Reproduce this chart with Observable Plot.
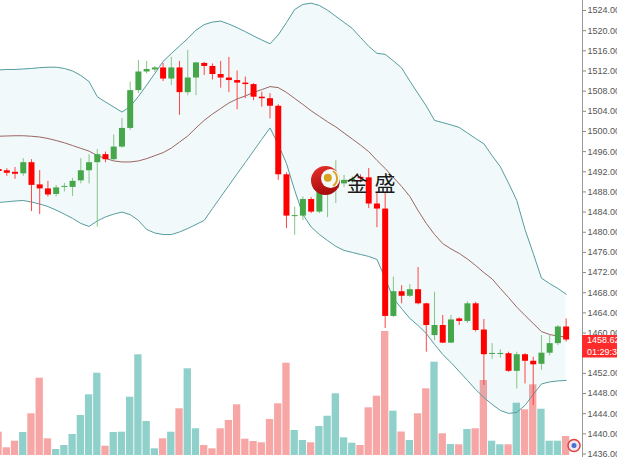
<!DOCTYPE html>
<html><head><meta charset="utf-8">
<script src="https://cdn.jsdelivr.net/npm/d3@7"></script>
<script src="https://cdn.jsdelivr.net/npm/@observablehq/plot@0.6"></script>
<style>
html,body{margin:0;padding:0;background:#fff;}
#wrap{position:relative;width:617px;height:457px;overflow:hidden;font-family:"Liberation Sans",Arial,sans-serif;}
#wrap svg{position:absolute;left:0;top:0;}
</style></head><body><div id="wrap"></div>
<script>
// candle index (-1 is the partly visible bar at the left edge)
const idx = d3.range(-1, 69);
const open  = [1492.45,1492.2,1491.9,1491.6,1493.8,1489.4,1488.6,1487.5,1488.9,1488.9,1490.2,1492.2,1493.8,1495.4,1494.4,1496.9,1500.6,1508.1,1511.8,1512.2,1512.6,1510.4,1512.6,1507.7,1510.6,1513.5,1512.9,1511.3,1510.6,1510.1,1509.6,1509.3,1506.8,1506.5,1505.0,1491.4,1483.1,1483.2,1486.5,1484.0,1487.5,1488.7,1489.6,1490.2,1490.9,1490.8,1485.6,1484.6,1463.3,1468.2,1467.3,1468.6,1465.8,1459.5,1461.5,1458.0,1462.8,1462.3,1465.8,1460.6,1455.75,1455.75,1455.9,1452.4,1455.7,1454.4,1453.8,1456.0,1457.9,1461.2];
const high  = [1492.85,1492.6,1492.85,1494.6,1494.4,1492.25,1490.1,1489.3,1489.7,1490.7,1494.6,1495.4,1496.4,1495.9,1499.3,1502.6,1509.8,1514.1,1513.9,1512.9,1513.5,1514.7,1513.9,1516.1,1513.7,1513.7,1513.4,1513.9,1514.7,1512.0,1510.8,1509.5,1507.8,1507.5,1505.3,1491.8,1485.0,1487.0,1486.9,1488.7,1491.9,1494.2,1491.3,1491.0,1491.4,1492.65,1487.7,1487.7,1471.1,1469.4,1469.6,1473.0,1465.9,1468.1,1463.5,1463.5,1463.0,1466.2,1466.1,1462.7,1457.9,1456.7,1456.2,1456.2,1455.9,1455.2,1459.5,1459.5,1461.5,1462.8];
const low   = [1491.65,1491.1,1490.5,1491.1,1484.1,1483.5,1487.0,1487.0,1488.0,1487.1,1489.6,1489.6,1481.0,1493.8,1494.2,1496.7,1500.2,1507.5,1511.4,1511.7,1509.9,1509.1,1503.2,1507.1,1507.1,1511.1,1510.2,1508.6,1507.7,1504.3,1506.5,1506.1,1504.8,1502.5,1490.3,1480.7,1479.4,1482.3,1483.7,1483.7,1482.9,1485.7,1488.9,1489.6,1489.8,1484.7,1480.9,1460.9,1463.1,1465.8,1467.1,1465.6,1456.2,1458.5,1457.9,1457.9,1461.5,1461.9,1460.2,1449.6,1454.8,1455.0,1452.2,1448.9,1449.9,1445.6,1452.6,1455.5,1457.5,1458.2];
const close = [1492.05,1491.7,1491.5,1493.8,1489.3,1488.6,1487.4,1488.8,1489.1,1490.1,1492.2,1493.8,1495.4,1494.4,1496.9,1500.6,1508.1,1511.8,1512.3,1512.6,1510.4,1512.6,1507.7,1510.6,1513.6,1512.9,1511.3,1510.6,1510.1,1509.6,1509.3,1506.8,1506.5,1505.0,1491.4,1483.2,1483.3,1486.5,1484.0,1488.3,1489.1,1489.7,1490.3,1490.5,1490.6,1485.6,1484.6,1463.3,1468.2,1467.3,1468.6,1465.8,1461.5,1461.5,1458.0,1462.6,1462.3,1465.8,1460.5,1455.7,1455.95,1455.95,1452.4,1455.7,1454.4,1453.7,1456.0,1457.9,1461.2,1458.62];
const volume = [233,77,143,230,417,773,167,60,100,210,400,607,823,93,230,233,583,1007,340,67,167,233,467,867,267,100,67,267,350,507,163,140,127,360,517,923,250,150,127,290,393,617,177,123,100,477,593,1240,443,235,150,417,667,933,217,110,107,260,267,750,143,107,107,523,457,707,463,143,143,190];
// Bollinger bands
const bbUpper  = [1512.2,1512.3,1512.3,1512.4,1512.5,1512.65,1512.75,1512.75,1512.5,1512.0,1511.1,1509.9,1506.9,1505.85,1504.85,1503.85,1504.95,1506.95,1509.2,1511.5,1513.9,1515.45,1516.95,1518.45,1520.1,1521.2,1521.7,1521.9,1521.3,1520.6,1519.8,1518.95,1518.15,1517.4,1519.15,1521.6,1524.2,1525.2,1525.45,1525.0,1524.05,1522.85,1521.65,1520.45,1518.65,1516.9,1515.5,1515.3,1514.0,1512.6,1510.0,1507.5,1505.05,1502.2,1501.75,1501.3,1500.8,1499.7,1498.6,1497.55,1495.2,1493.0,1489.75,1486.3,1480.55,1475.8,1470.9,1469.8,1468.85,1467.7];
const bbMiddle = [1499.05,1499.1,1499.15,1499.15,1499.05,1498.9,1498.6,1498.2,1497.75,1497.2,1496.65,1496.1,1495.2,1494.65,1494.15,1493.95,1493.95,1494.15,1494.6,1495.2,1495.8,1496.7,1497.9,1499.1,1500.7,1502.2,1503.45,1504.55,1505.65,1506.45,1507.05,1507.75,1508.3,1508.9,1508.7,1507.75,1506.55,1505.35,1504.1,1503.0,1501.9,1500.9,1499.7,1498.5,1497.3,1496.0,1494.25,1492.65,1490.85,1489.1,1487.1,1484.3,1481.75,1479.55,1477.75,1476.7,1475.8,1474.7,1473.4,1472.0,1470.75,1468.85,1467.05,1465.15,1463.5,1461.9,1460.3,1459.7,1459.4,1459.2];
const bbLower  = [1485.9,1486.05,1486.2,1486.3,1486.0,1485.6,1485.1,1484.4,1483.6,1482.75,1481.75,1481.15,1482.25,1483.05,1483.6,1484.0,1483.5,1482.35,1480.55,1479.85,1479.55,1479.55,1480.05,1480.75,1481.55,1482.35,1484.7,1487.0,1489.3,1491.6,1493.85,1496.15,1498.45,1500.7,1497.45,1493.65,1488.3,1483.5,1481.05,1479.55,1478.35,1477.2,1476.4,1476.0,1475.6,1475.2,1474.6,1470.85,1466.85,1464.85,1462.9,1461.5,1459.9,1457.75,1455.75,1454.15,1452.4,1450.6,1448.8,1447.2,1445.85,1444.65,1444.05,1444.25,1445.65,1447.8,1449.9,1450.3,1450.5,1450.6];
const yTicks = [1436,1440,1444,1448,1452,1456,1460,1464,1468,1472,1476,1480,1484,1488,1492,1496,1500,1504,1508,1512,1516,1520,1524];
const lastPrice = 1458.62;
const countdown = "01:29:33";
const watermark = "金盛";

const W = 617, H = 457;
const xDomain = [-0.766, 69.99];
const rows = idx.map((i, k) => ({
  i, o: open[k], h: high[k], l: low[k], c: close[k], v: volume[k],
  up: close[k] >= open[k], u: bbUpper[k], m: bbMiddle[k], lo: bbLower[k]
}));

const wrap = document.getElementById("wrap");

// volume layer
const volPlot = Plot.plot({
  width: W, height: H, marginLeft: 0, marginRight: 35, marginTop: 0, marginBottom: 2,
  x: {domain: xDomain, axis: null},
  y: {domain: [0, 4550], axis: null},
  color: {type: "identity"},
  style: {background: "#fff"},
  marks: [
    Plot.rectY(rows, {x1: d => d.i - 0.445, x2: d => d.i + 0.445, y1: 0, y2: "v",
      fill: d => d.up ? "#8fd0cb" : "#f7a6a6"})
  ]
});
wrap.appendChild(volPlot);

// price layer
const main = Plot.plot({
  width: W, height: H, marginLeft: 0, marginRight: 35, marginTop: 10, marginBottom: 3.5,
  x: {domain: xDomain, axis: null},
  y: {domain: [1436, 1524], axis: null},
  color: {type: "identity"},
  style: {background: "transparent", fontFamily: "Liberation Sans, Arial, sans-serif", fontSize: "9px"},
  marks: [
    Plot.areaY(rows, {x: "i", y1: "lo", y2: "u", fill: "#0097a7", fillOpacity: 0.055}),
    Plot.lineY(rows, {x: "i", y: "u", stroke: "#569c9e", strokeWidth: 1}),
    Plot.lineY(rows, {x: "i", y: "lo", stroke: "#569c9e", strokeWidth: 1}),
    Plot.lineY(rows, {x: "i", y: "m", stroke: "#9a6663", strokeWidth: 1}),
    Plot.ruleX(rows, {x: "i", y1: "l", y2: "h", stroke: d => d.up ? "#86c586" : "#ff4545", strokeWidth: 1}),
    Plot.ruleX(rows, {x: "i", y1: "o", y2: "c", stroke: d => d.up ? "#45a64a" : "#ff0000", strokeWidth: 6}),
    Plot.ruleX([xDomain[1]], {y1: 1435.3, y2: 1526, stroke: "#9a9a9a", strokeWidth: 1}),
    Plot.axisY({anchor: "right", ticks: yTicks, tickFormat: d3.format(".2f"), tickSize: 3, tickPadding: 2,
      fontSize: 9, color: "#555", stroke: "#888"})
  ]
});
wrap.appendChild(main);

// last price tag
const svg = d3.select(main);
const py = main.scale("y").apply(lastPrice);
const px = main.scale("x").apply(xDomain[1]);
const tag = svg.append("g").attr("text-anchor", "start");
tag.append("rect").attr("x", px).attr("y", py - 4.5).attr("width", W - px).attr("height", 22.5).attr("fill", "#ff2b2b");
tag.append("text").attr("x", px + 5).attr("y", py + 0.5).attr("dominant-baseline", "central")
  .attr("fill", "#fff").attr("font-size", 9).text(d3.format(".2f")(lastPrice));
tag.append("text").attr("x", px + 5).attr("y", py + 12.5).attr("dominant-baseline", "central")
  .attr("fill", "#fff").attr("font-size", 9).text(countdown);

// watermark logo
const defs = svg.append("defs");
const g1 = defs.append("linearGradient").attr("id", "lg").attr("x1", 0).attr("y1", 0).attr("x2", 0.3).attr("y2", 1);
g1.append("stop").attr("offset", "0%").attr("stop-color", "#e8322b");
g1.append("stop").attr("offset", "100%").attr("stop-color", "#a80d0d");
const logo = svg.append("g");
logo.append("circle").attr("cx", 325.5).attr("cy", 180.5).attr("r", 14.5).attr("fill", "url(#lg)");
logo.append("circle").attr("cx", 330.5).attr("cy", 178.5).attr("r", 9.5).attr("fill", "#f4fafa");
logo.append("path").attr("d", "M333,171 A9,9 0 0 1 333,186").attr("fill", "none").attr("stroke", "#d9a520").attr("stroke-width", 2);
logo.append("circle").attr("cx", 327.8).attr("cy", 177.8).attr("r", 4).attr("fill", "#d7a21c");
svg.append("text").attr("x", 346.5).attr("y", 181.5).attr("dominant-baseline", "central").attr("text-anchor", "start")
  .attr("font-family", "Noto Sans CJK SC").attr("font-size", 21).attr("letter-spacing", 7)
  .attr("fill", "#1a1a1a").text(watermark);

// small badge bottom right
const badge = svg.append("g");
badge.append("circle").attr("cx", 574).attr("cy", 445.5).attr("r", 6).attr("fill", "#e9e9f5").attr("stroke", "#e0403a").attr("stroke-width", 1.5);
badge.append("circle").attr("cx", 574).attr("cy", 445.5).attr("r", 2.5).attr("fill", "#4a6fd0");
</script></body></html>
